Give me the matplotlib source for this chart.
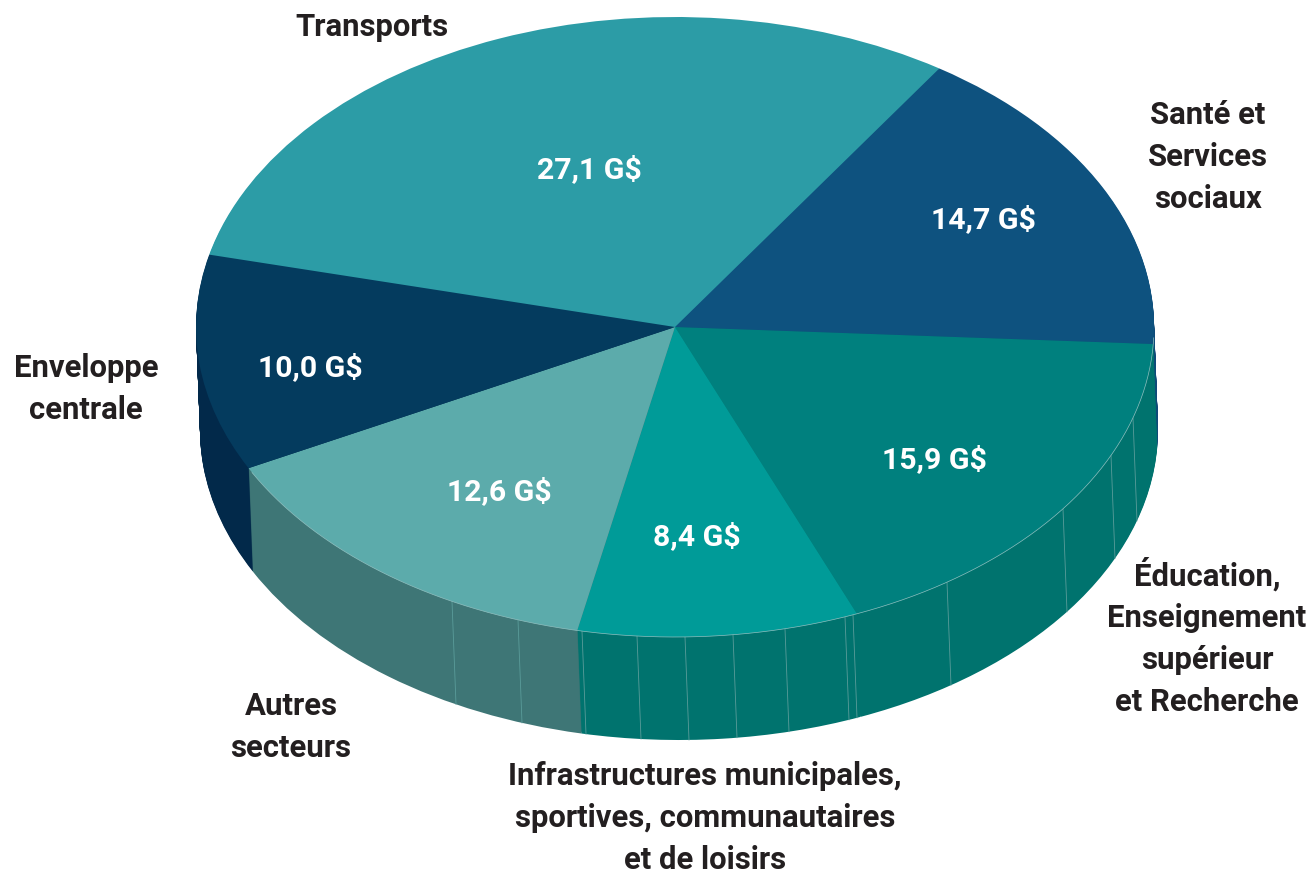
import numpy as np
import matplotlib
matplotlib.use('Agg')
import matplotlib.pyplot as plt

plt.rcParams['font.family'] = ['Roboto', 'DejaVu Sans']

sectors = ['Transports', 'Santé et\nServices\nsociaux',
           'Éducation,\nEnseignement\nsupérieur\net Recherche',
           'Infrastructures municipales,\nsportives, communautaires\net de loisirs',
           'Autres\nsecteurs', 'Enveloppe\ncentrale']
values = [27.1, 14.7, 15.9, 8.4, 12.6, 10.0]
value_labels = ['27,1 G$', '14,7 G$', '15,9 G$', '8,4 G$', '12,6 G$', '10,0 G$']
top_colors = ['#2c9ca6', '#0e527f', '#00807e', '#009b98', '#5cabab', '#043b5e']
side_colors = ['#2c9ca6', '#0e4a78', '#00736e', '#00736e', '#3e7676', '#02294a']

# label positions in pixels
name_x = [372, 1208, 1207, 705, 291, 86]
name_y = [27, 157, 637, 818, 727, 389]
value_x = [589, 983, 934, 697, 499, 310]
value_y = [170, 220, 460, 537, 492, 368]

# faint seams on the side wall (x on the top rim)
seam_x = [452, 518, 582, 637, 685, 733, 785, 845, 853, 947, 1063, 1111, 1133]

W, H = 1312, 876
cx, cy, rx, ry = 675, 327, 479, 310
depth = 103
drift = 4

fig = plt.figure(figsize=(W / 100, H / 100), dpi=100)
ax = fig.add_axes([0, 0, 1, 1])

# side wall: the same pie stacked downwards, then the top face
for dz in np.arange(depth, 0, -1.0):
    ax.pie(values, startangle=166.5, counterclock=False, colors=side_colors,
           center=(drift * dz / depth / rx, -dz / ry), radius=1,
           wedgeprops={'linewidth': 0})
wedges, _ = ax.pie(values, startangle=166.5, counterclock=False, colors=top_colors,
                   center=(0, 0), radius=1,
                   wedgeprops={'linewidth': 0, 'zorder': 3})

ax.set_aspect('auto')
ax.set_xlim(-cx / rx, (W - cx) / rx)
ax.set_ylim((cy - H) / ry, cy / ry)
ax.axis('off')

# light rim along the front of the top face
t = np.radians(np.linspace(-152, -2, 300))
ax.plot(np.cos(t), np.sin(t), color='#8fc0c0', lw=0.5, zorder=4)

for x in seam_x:
    u = (x - cx) / rx
    v = -np.sqrt(1 - u * u)
    ax.plot([u, u + drift / rx], [v, v - depth / ry], color='#5a9c9a', lw=0.6, zorder=2)


def px(x, y):
    return x / W, 1 - y / H


for name, x, y in zip(sectors, name_x, name_y):
    fig.text(*px(x, y), name, ha='center', va='center', fontsize=22.4,
             fontweight='bold', color='#231f20', linespacing=1.49)
for lab, x, y in zip(value_labels, value_x, value_y):
    fig.text(*px(x, y), lab, ha='center', va='center', fontsize=21.8,
             fontweight='bold', color='white')

plt.savefig('out.png', dpi=100)
